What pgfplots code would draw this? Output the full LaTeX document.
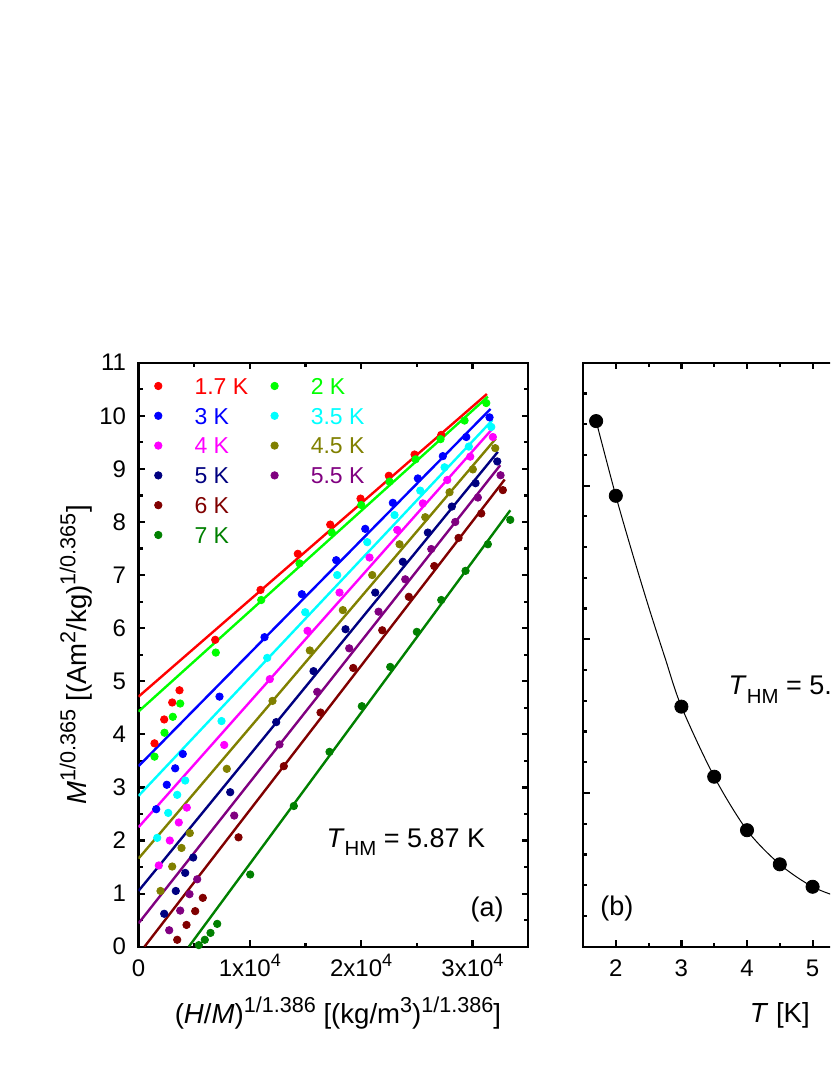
\documentclass[border=0pt]{standalone}
\usepackage{fontspec}
\setmainfont{Liberation Sans}
\usepackage{pgfplots}
\pgfplotsset{compat=1.18}

% raised / lowered small text, Origin style
\newcommand{\sups}[2][10.8]{\raisebox{0.42em}{\fontsize{#1}{#1}\selectfont #2}}
\newcommand{\subs}[2][10.2]{\raisebox{-0.3em}{\fontsize{#1}{#1}\selectfont #2}}

\definecolor{c17}{RGB}{255,0,0}
\definecolor{c2}{RGB}{0,255,0}
\definecolor{c3}{RGB}{0,0,255}
\definecolor{c35}{RGB}{0,255,255}
\definecolor{c4}{RGB}{255,0,255}
\definecolor{c45}{RGB}{128,128,0}
\definecolor{c5}{RGB}{0,0,128}
\definecolor{c55}{RGB}{128,0,128}
\definecolor{c6}{RGB}{128,0,0}
\definecolor{c7}{RGB}{0,128,0}

\pgfplotsset{
  panel/.style={
    scale only axis, height=292pt,
    font=\fontsize{12}{14.4}\selectfont,
    axis line style={line width=1.1pt},
    tick style={line width=1.1pt, black},
    major tick length=3.3pt, minor tick length=2pt,
    /pgf/number format/assume math mode=true,
    xticklabel style={text height=11.5pt, text depth=0pt},
    yticklabel style={xshift=-2.7pt},
    label style={font=\fontsize{13.8}{16}\selectfont},
  },
  dots/.style={only marks, mark=*, mark size=1.85pt, color=#1,
    legend image code/.code={\path (-2pt,0pt) (14pt,0pt); \draw[##1] plot coordinates {(0pt,0pt)};}},
  fit/.style={color=#1, line width=1.2pt, no marks, forget plot},
}

\begin{document}
\begin{tikzpicture}
\path[use as bounding box] (0pt,0pt) rectangle (415pt,537.5pt);
\clip (0pt,0pt) rectangle (415pt,537.5pt);

% ---------------- panel (a)
\begin{axis}[panel, at={(69.25pt,64.15pt)}, anchor=south west, width=194.8pt,
  xmin=0, xmax=35000, ymin=0, ymax=11,
  scaled x ticks=false,
  xtick={0,10000,20000,30000},
  xticklabels={{0},{1x10\sups[9]{4}},{2x10\sups[9]{4}},{3x10\sups[9]{4}}},
  minor xtick={5000,15000,25000},
  ytick={0,1,...,11},
  minor ytick={0.5,1.5,...,10.5},
  xlabel={(\textit{H}/\textit{M})\sups{1/1.386} [(kg/m\sups{3})\sups{1/1.386}]},
  ylabel={\textit{M}\sups{1/0.365} [(Am\sups{2}/kg)\sups{1/0.365}]},
  xlabel style={at={(axis description cs:0.512,-0.1135)}, anchor=center},
  ylabel style={at={(axis description cs:-0.16,0.5)}, anchor=center},
  legend columns=2,
  legend cell align=left,
  legend style={draw=none, fill=none, inner sep=0pt,
    at={(axis description cs:0.0385,0.975)}, anchor=north west,
    font=\fontsize{11.5}{13.8}\selectfont, row sep=6.6pt,
    nodes={inner xsep=3.9pt, inner ysep=0pt, text height=8.3pt, text depth=0pt},
    /tikz/every even column/.append style={column sep=7.1pt}},
]
\addplot[dots=c17] coordinates {
 (1438,3.83) (2309,4.28) (3028,4.60) (3684,4.83) (6892,5.78) (10962,6.72)
 (14313,7.40) (17224,7.95) (19947,8.44) (22489,8.87) (24799,9.27) (27198,9.64)};
\addlegendentry{\textcolor{c17}{1.7 K}}
\addplot[fit=c17] coordinates {(0,4.71) (31300,10.41)};

\addplot[dots=c2] coordinates {
 (1438,3.58) (2336,4.03) (3082,4.33) (3747,4.58) (6945,5.54) (11025,6.53)
 (14466,7.22) (17368,7.80) (20010,8.32) (22552,8.76) (24888,9.18) (27135,9.56)
 (29291,9.91) (31241,10.24)};
\addlegendentry{\textcolor{c2}{2 K}}
\addplot[fit=c2] coordinates {(0,4.43) (31390,10.36)};

\addplot[dots=c3] coordinates {
 (1590,2.59) (2543,3.05) (3297,3.36) (3980,3.63) (7278,4.71) (11321,5.83)
 (14673,6.64) (17763,7.28) (20369,7.87) (22849,8.36) (25095,8.82) (27341,9.24)
 (29444,9.60) (31537,9.97)};
\addlegendentry{\textcolor{c3}{3 K}}
\addplot[fit=c3] coordinates {(0,3.40) (31630,10.13)};

\addplot[dots=c35] coordinates {
 (1680,2.05) (2669,2.52) (3477,2.86) (4196,3.13) (7458,4.25) (11564,5.44)
 (14978,6.30) (17853,7.00) (20549,7.62) (23002,8.13) (25311,8.59) (27494,9.03)
 (29677,9.42) (31690,9.79)};
\addlegendentry{\textcolor{c35}{3.5 K}}
\addplot[fit=c35] coordinates {(0,2.84) (31800,9.92)};

\addplot[dots=c4] coordinates {
 (1824,1.53) (2812,2.00) (3621,2.34) (4340,2.62) (7700,3.80) (11797,5.04)
 (15185,5.95) (18060,6.67) (20755,7.33) (23244,7.85) (25544,8.35) (27737,8.79)
 (29803,9.23) (31834,9.60)};
\addlegendentry{\textcolor{c4}{4 K}}
\addplot[fit=c4] coordinates {(0,2.25) (31900,9.78)};

\addplot[dots=c45] coordinates {
 (1977,1.05) (3028,1.51) (3864,1.86) (4609,2.14) (7934,3.35) (12040,4.63)
 (15391,5.58) (18356,6.34) (20998,7.00) (23451,7.58) (25760,8.09) (27943,8.56)
 (30037,8.99) (32049,9.39)};
\addlegendentry{\textcolor{c45}{4.5 K}}
\addplot[fit=c45] coordinates {(0,1.66) (32100,9.57)};

\addplot[dots=c5] coordinates {
 (2309,0.62) (3351,1.05) (4196,1.39) (4915,1.68) (8239,2.91) (12372,4.23)
 (15724,5.19) (18599,5.98) (21268,6.67) (23747,7.25) (25994,7.80) (28150,8.29)
 (30279,8.73) (32229,9.14)};
\addlegendentry{\textcolor{c5}{5 K}}
\addplot[fit=c5] coordinates {(0,1.05) (32280,9.32)};

\addplot[dots=c55] coordinates {
 (2758,0.31) (3747,0.68) (4582,0.99) (5274,1.27) (8599,2.47) (12669,3.81)
 (16056,4.80) (18931,5.62) (21564,6.31) (23963,6.92) (26299,7.49) (28456,8.00)
 (30486,8.46) (32526,8.88)};
\addlegendentry{\textcolor{c55}{5.5 K}}
\addplot[fit=c55] coordinates {(0,0.44) (32500,9.07)};

\addplot[dots=c6] coordinates {
 (3477,0.13) (4313,0.41) (5094,0.67) (5777,0.92) (8985,2.06) (13055,3.40)
 (16353,4.41) (19291,5.25) (21896,5.96) (24286,6.59) (26569,7.17) (28752,7.70)
 (30792,8.16) (32732,8.60)};
\addlegendentry{\textcolor{c6}{6 K}}
\addplot[fit=c6] coordinates {(540,0) (32900,8.80)};

\addlegendimage{empty legend}
\addlegendentry{}

\addplot[dots=c7] coordinates {
 (5418,0.03) (5957,0.13) (6469,0.26) (7071,0.43) (10036,1.36) (13954,2.65)
 (17161,3.67) (20064,4.53) (22615,5.27) (25005,5.93) (27198,6.53) (29381,7.08)
 (31385,7.58) (33397,8.04)};
\addlegendentry{\textcolor{c7}{7 K}}
\addplot[fit=c7] coordinates {(4520,0) (33400,8.22)};

\node[anchor=base west, inner sep=0pt, font=\fontsize{13.5}{16}\selectfont]
  at (axis cs:16865,1.87) {\textit{T}\subs{HM} = 5.87 K};
\node[anchor=base west, inner sep=0pt, font=\fontsize{13.5}{16}\selectfont]
  at (axis cs:29800,0.578) {(a)};
\end{axis}

% ---------------- panel (b)
\begin{axis}[panel, at={(291.5pt,64.15pt)}, anchor=south west, width=196.8pt,
  xmin=1.5, xmax=7.5, ymin=0, ymax=19,
  xtick={2,...,7}, minor xtick={2.5,3.5,...,7},
  ytick={0,5,10,15}, minor ytick={1,...,19}, yticklabels={},
  xlabel={\textit{T} [K]},
  xlabel style={at={(axis description cs:0.5,-0.118)}, anchor=center},
]
\addplot[black, line width=0.5pt, smooth] coordinates {
 (1.7,17.10) (2,14.67) (2.25,12.82) (2.5,11.06) (2.75,9.40) (3,7.81)
 (3.5,5.53) (4,3.79) (4.5,2.68) (5,1.95) (5.5,1.55) (6,1.30)};
\addplot[only marks, mark=*, mark size=3.3pt, black] coordinates {
 (1.7,17.10) (2,14.67) (3,7.81) (3.5,5.53) (4,3.79) (4.5,2.68) (5,1.95)};
\node[anchor=base west, inner sep=0pt, font=\fontsize{13.5}{16}\selectfont]
  at (axis cs:3.715,8.19) {\textit{T}\subs{HM} = 5.87 K};
\node[anchor=base west, inner sep=0pt, font=\fontsize{13.5}{16}\selectfont]
  at (axis cs:1.76,1.03) {(b)};
\end{axis}
\end{tikzpicture}
\end{document}
